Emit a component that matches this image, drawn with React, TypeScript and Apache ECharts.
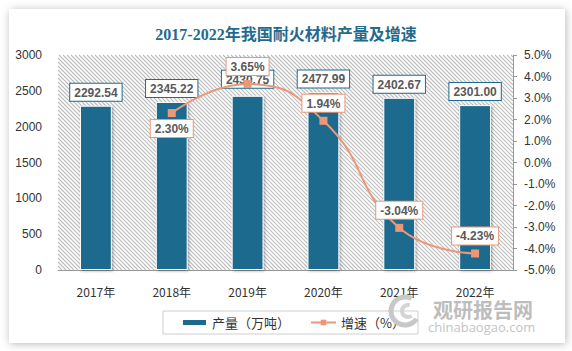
import React, { useEffect, useRef } from "react";
import * as echarts from "echarts";

const categories = ["2017年", "2018年", "2019年", "2020年", "2021年", "2022年"];
const production = [2292.54, 2345.22, 2430.75, 2477.99, 2402.67, 2301.0];
const growth: (number | string)[] = ["-", 2.3, 3.65, 1.94, -3.04, -4.23];
const seriesNames = ["产量（万吨）", "增速（%）"];
const titleText = "2017-2022年我国耐火材料产量及增速";

const BAR = "#1C6A8E";
const LINE = "#EC9878";
const GL = 58, GR = 59, GT = 55, GB = 81;

function hatchLines(x0: number, y0: number, x1: number, y1: number, step: number) {
  const out: any[] = [];
  for (let c = x0 - y1; c <= x1 - y0; c += step) {
    const ya = Math.max(y0, x0 - c);
    const yb = Math.min(y1, x1 - c);
    if (yb <= ya) continue;
    out.push({
      type: "line",
      silent: true,
      shape: { x1: ya + c, y1: ya, x2: yb + c, y2: yb },
      style: { stroke: "#bdbdbd", lineWidth: 1.1 },
    });
  }
  return out;
}

export default function App() {
  const ref = useRef<HTMLDivElement>(null);
  useEffect(() => {
    if (!ref.current) return;
    const chart = echarts.init(ref.current, null, { renderer: "svg" });
    const labelFont = "'Liberation Sans', 'Noto Sans', sans-serif";
    chart.setOption({
      animation: false,
      backgroundColor: "transparent",
      title: {
        text: titleText,
        left: "center",
        top: 21,
        textStyle: {
          fontSize: 16,
          fontWeight: "bold",
          color: "#1F6B8E",
          fontFamily: "'Liberation Serif', 'Noto Sans CJK SC', serif",
        },
      },
      graphic: [
        {
          type: "group",
          z: -100,
          silent: true,
          children: [
            {
              type: "rect",
              shape: { x: 9, y: 9, width: 556, height: 334 },
              style: { fill: "#fff", shadowBlur: 8, shadowColor: "rgba(0,0,0,0.28)", shadowOffsetX: 1, shadowOffsetY: 1 },
            },
            ...hatchLines(GL, GT, 572 - GR, 351 - GB, 4),
          ],
        },
        {
          type: "arc",
          z: 50,
          shape: { cx: 405, cy: 311, r: 14, startAngle: 0.6, endAngle: 5.2 },
          style: { stroke: "#c8c8c8", lineWidth: 5, fill: null },
          silent: true,
        },
        {
          type: "arc",
          z: 50,
          shape: { cx: 408, cy: 311, r: 6, startAngle: 0.9, endAngle: 5.0 },
          style: { stroke: "#d4d4d4", lineWidth: 4, fill: null },
          silent: true,
        },
        {
          type: "text",
          z: 50,
          left: 433,
          top: 299,
          style: {
            text: "观研报告网",
            fontSize: 20,
            fontWeight: "bold",
            fill: "#bdbdbd",
            fontFamily: "'Noto Sans CJK SC', sans-serif",
          },
          silent: true,
        },
        {
          type: "text",
          z: 50,
          left: 428,
          top: 320,
          style: {
            text: "chinabaogao.com",
            fontSize: 13,
            fill: "#c4c4c4",
            fontFamily: "'Open Sans', sans-serif",
          },
          silent: true,
        },
      ],
      grid: { left: GL, right: GR, top: GT, bottom: GB, show: false },
      legend: {
        left: 163,
        top: 311,
        padding: [5, 13, 5, 18],
        borderColor: "#cfcfcf",
        borderWidth: 1,
        itemGap: 20,
        itemWidth: 25,
        itemHeight: 7,
        textStyle: { fontSize: 13, color: "#333", fontFamily: "'Noto Sans CJK SC', sans-serif" },
        data: [
          { name: seriesNames[0], icon: "rect" },
          { name: seriesNames[1] },
        ],
      },
      xAxis: {
        type: "category",
        data: categories,
        axisLine: { show: true, lineStyle: { color: "#999", width: 1 } },
        axisTick: { show: false },
        axisLabel: { color: "#333", fontSize: 12, margin: 15, fontFamily: "'Noto Sans CJK SC', sans-serif" },
      },
      yAxis: [
        {
          type: "value",
          min: 0,
          max: 3000,
          interval: 500,
          axisLine: { show: false },
          axisTick: { show: false },
          splitLine: { show: false },
          axisLabel: {
            color: "#333",
            fontSize: 12,
            margin: 16,
            fontFamily: labelFont,
            formatter: (v: number) => String(v),
          },
        },
        {
          type: "value",
          min: -5,
          max: 5,
          interval: 1,
          position: "right",
          axisLine: { show: true, lineStyle: { color: "#999" } },
          axisTick: { show: true, length: 4, lineStyle: { color: "#999" } },
          splitLine: { show: false },
          axisLabel: {
            color: "#333",
            fontSize: 12,
            margin: 11,
            fontFamily: labelFont,
            formatter: (v: number) => v.toFixed(1) + "%",
          },
        },
      ],
      series: [
        {
          name: seriesNames[0],
          type: "bar",
          data: production.map((v, i) =>
            i === 2 ? { value: v, label: { distance: 8 } } : v
          ),
          barWidth: "42%",
          itemStyle: {
            color: BAR,
            borderColor: "#fff",
            borderWidth: 1,
            shadowBlur: 3,
            shadowColor: "rgba(0,0,0,0.35)",
            shadowOffsetX: 1,
            shadowOffsetY: 1,
          },
          label: {
            show: true,
            position: "top",
            distance: 5,
            formatter: (p: any) => Number(p.value).toFixed(2),
            backgroundColor: "#fff",
            borderColor: "#1F6B8E",
            borderWidth: 1,
            padding: [3, 4, 2, 4],
            color: "#595959",
            fontSize: 12,
            fontWeight: "bold",
            fontFamily: labelFont,
          },
        },
        {
          name: seriesNames[1],
          type: "line",
          yAxisIndex: 1,
          smooth: true,
          data: growth.map((v, i) =>
            i === 1 ? { value: v, label: { position: "bottom", distance: 3 } } : v
          ),
          symbol: "rect",
          symbolSize: 8,
          lineStyle: { color: LINE, width: 2 },
          itemStyle: { color: LINE },
          label: {
            show: true,
            position: "top",
            distance: 5,
            formatter: (p: any) => Number(p.value).toFixed(2) + "%",
            backgroundColor: "#fff",
            borderColor: LINE,
            borderWidth: 1,
            padding: [3, 4, 2, 4],
            color: "#595959",
            fontSize: 12,
            fontWeight: "bold",
            fontFamily: labelFont,
          },
        },
      ],
    });
    return () => chart.dispose();
  }, []);
  return (
    <div
      ref={ref}
      style={{ position: "absolute", left: 0, top: 0, width: 572, height: 351 }}
    />
  );
}
